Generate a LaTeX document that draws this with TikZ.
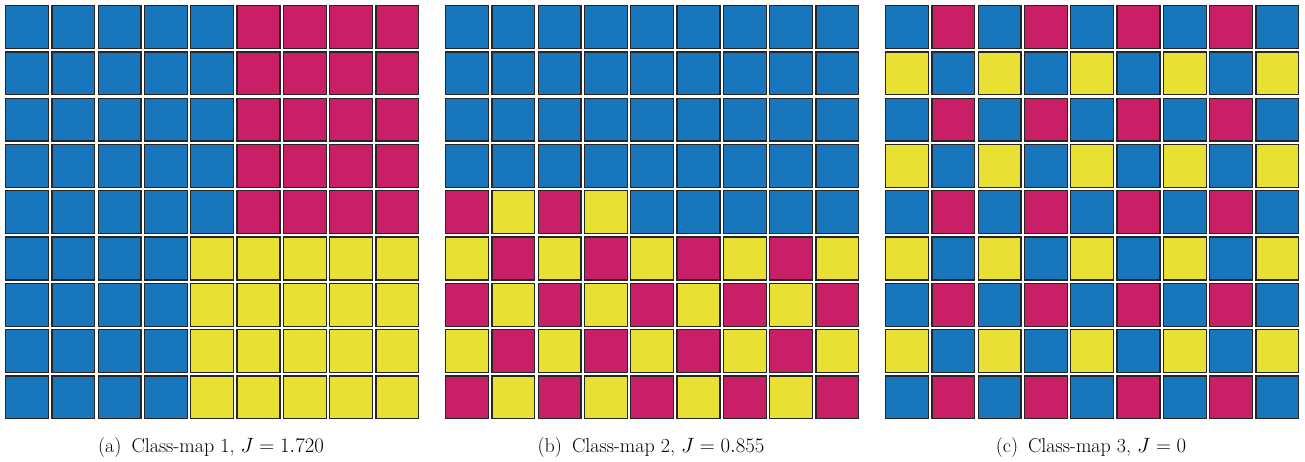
\documentclass[tikz,border=0pt]{standalone}
\usepackage{xcolor}
\usepackage{tikz}
\usepackage{amsmath}
\definecolor{blu}{HTML}{1776BC}
\definecolor{rosa}{HTML}{C81F66}
\definecolor{giallo}{HTML}{E8E032}
\colorlet{b}{blu}
\colorlet{p}{rosa}
\colorlet{y}{giallo}
\tikzset{cella/.style={draw=black!85, line width=1.3pt},
  didascalia/.style={anchor=base, font=\fontsize{20}{24}\selectfont}}

\begin{document}
\begin{tikzpicture}[x=1pt, y=-1pt]
        \useasboundingbox (0,0) rectangle (1305,462);
        % mappa 1
        \foreach \riga [count=\r from 0] in {{b,b,b,b,b,p,p,p,p},{b,b,b,b,b,p,p,p,p},{b,b,b,b,b,p,p,p,p},{b,b,b,b,b,p,p,p,p},{b,b,b,b,b,p,p,p,p},{b,b,b,b,y,y,y,y,y},{b,b,b,b,y,y,y,y,y},{b,b,b,b,y,y,y,y,y},{b,b,b,b,y,y,y,y,y}}
            \foreach \col [count=\k from 0] in \riga
                \draw[cella, fill=\col] (5.6+\k*46.3, 5.6+\r*46.3) rectangle ++(42.8,42.8);
        % mappa 2
        \foreach \riga [count=\r from 0] in {{b,b,b,b,b,b,b,b,b},{b,b,b,b,b,b,b,b,b},{b,b,b,b,b,b,b,b,b},{b,b,b,b,b,b,b,b,b},{p,y,p,y,b,b,b,b,b},{y,p,y,p,y,p,y,p,y},{p,y,p,y,p,y,p,y,p},{y,p,y,p,y,p,y,p,y},{p,y,p,y,p,y,p,y,p}}
            \foreach \col [count=\k from 0] in \riga
                \draw[cella, fill=\col] (445.6+\k*46.3, 5.6+\r*46.3) rectangle ++(42.8,42.8);
        % mappa 3
        \foreach \riga [count=\r from 0] in {{b,p,b,p,b,p,b,p,b},{y,b,y,b,y,b,y,b,y},{b,p,b,p,b,p,b,p,b},{y,b,y,b,y,b,y,b,y},{b,p,b,p,b,p,b,p,b},{y,b,y,b,y,b,y,b,y},{b,p,b,p,b,p,b,p,b},{y,b,y,b,y,b,y,b,y},{b,p,b,p,b,p,b,p,b}}
            \foreach \col [count=\k from 0] in \riga
                \draw[cella, fill=\col] (885.6+\k*46.3, 5.6+\r*46.3) rectangle ++(42.8,42.8);
        \node[didascalia] (capa) at (211,452) {(a)\enspace Class-map 1, $J = 1.720$};
        \node[didascalia] (capb) at (651,452) {(b)\enspace Class-map 2, $J = 0.855$};
        \node[didascalia] (capc) at (1091,452) {(c)\enspace Class-map 3, $J = 0$};
    \end{tikzpicture}
\end{document}
